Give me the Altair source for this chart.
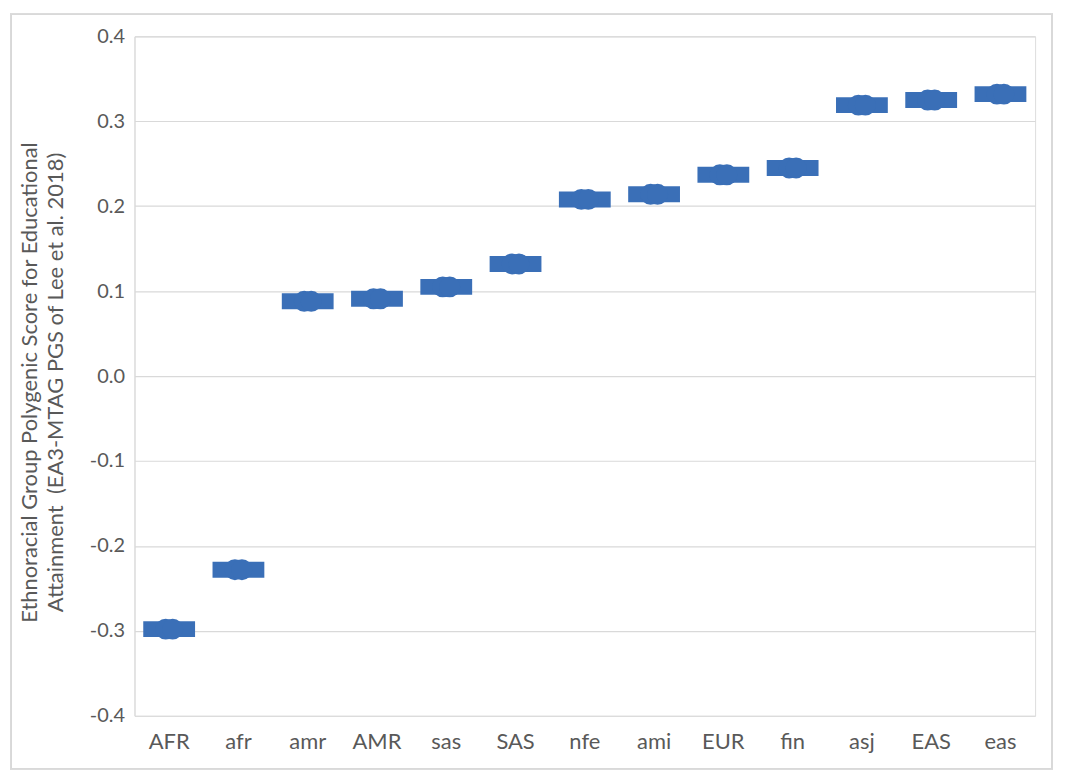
import altair as alt
import pandas as pd

groups = ["AFR", "afr", "amr", "AMR", "sas", "SAS", "nfe", "ami", "EUR", "fin", "asj", "EAS", "eas"]
scores = [-0.298, -0.228, 0.088, 0.091, 0.105, 0.132, 0.208, 0.214, 0.237, 0.245, 0.319, 0.325, 0.332]
y_ticks = [-0.4, -0.3, -0.2, -0.1, 0.0, 0.1, 0.2, 0.3, 0.4]
y_title = ["Ethnoracial Group Polygenic Score for Educational",
           "Attainment \u00a0(EA3-MTAG PGS of Lee et al. 2018)"]

df = pd.DataFrame({"group": groups, "score": scores})

FONT = "Lato"
BLUE = "#3A6FB7"
GRAY_TXT = "#595959"

x_enc = alt.X("group:N", sort=groups,
              scale=alt.Scale(paddingInner=0, paddingOuter=0, align=0.5),
              axis=alt.Axis(title=None, labelAngle=0, labelFontSize=22, labelColor=GRAY_TXT,
                            labelFont=FONT, labelPadding=16, ticks=False, domain=False, grid=False))
y_enc = alt.Y("score:Q",
              scale=alt.Scale(domain=[-0.4, 0.4], nice=False, zero=False),
              axis=alt.Axis(values=y_ticks, title=y_title, titleFont=FONT, titleFontSize=22,
                            titleFontWeight="normal", titleColor=GRAY_TXT, titleLineHeight=26,
                            titleAngle=-90, titleX=-93, titleY=347, titleAlign="center",
                            titleBaseline="bottom",
                            labelExpr="(datum.value < -0.00001 ? '-' : '') + format(abs(datum.value), '.1f')",
                            labelFontSize=20, labelColor=GRAY_TXT, labelFont=FONT, labelPadding=10,
                            ticks=False, domain=True, domainColor="#D9D9D9", gridColor="#D9D9D9",
                            gridWidth=1.2))

frame = alt.Chart(df).mark_rect(filled=False, stroke="#D9D9D9", strokeWidth=1.2, clip=False).encode(
    x=alt.value(-124), x2=alt.value(921), y=alt.value(-22), y2=alt.value(735))

boxes = alt.Chart(df).mark_tick(color=BLUE, thickness=16, size=52, opacity=1).encode(x=x_enc, y=y_enc)
dots_a = alt.Chart(df).mark_circle(color=BLUE, size=440, opacity=1, xOffset=-3.5).encode(x=x_enc, y=y_enc)
dots_b = alt.Chart(df).mark_circle(color=BLUE, size=440, opacity=1, xOffset=3.5).encode(x=x_enc, y=y_enc)

chart = alt.layer(frame, boxes, dots_a, dots_b).properties(
    width=904, height=682,
    autosize=alt.AutoSizeParams(type="none"),
    padding={"left": 127, "top": 27, "right": 26, "bottom": 56},
).configure_view(stroke=None).configure(background="white")

chart.save("out.html", embed_options={"renderer": "svg", "actions": False})
